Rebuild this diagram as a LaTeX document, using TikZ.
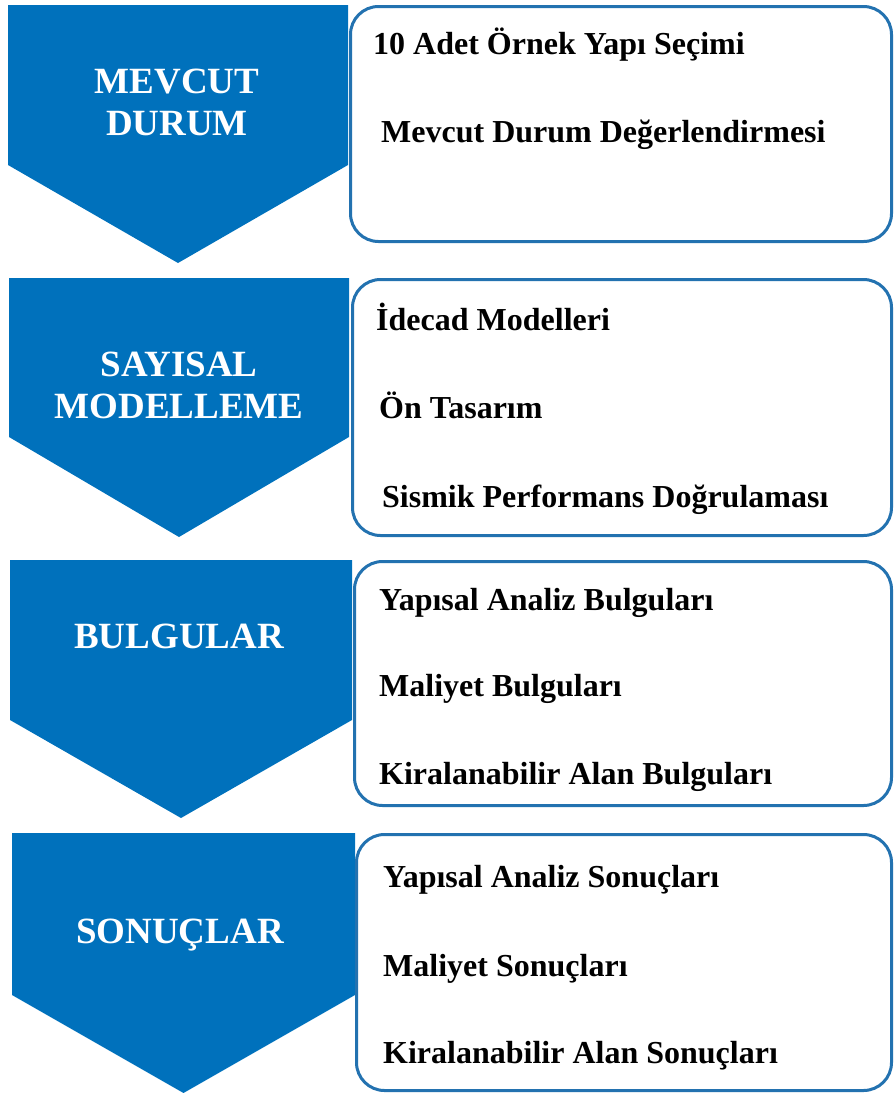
\documentclass[tikz,border=0pt]{standalone}
\usepackage{fontspec}
\setmainfont{Liberation Serif}
\definecolor{pfeilblau}{HTML}{0071BC}
\definecolor{randblau}{HTML}{2372B0}
\tikzset{
  kasten/.style={draw=randblau, line width=3pt, rounded corners=28pt},
  titel/.style={text=white, font=\fontsize{37}{42}\selectfont\bfseries, align=center, anchor=base, inner sep=0pt},
  punkt/.style={font=\fontsize{32}{34}\selectfont\bfseries, anchor=base west, inner sep=0pt}
}
\begin{document}
\begin{tikzpicture}[x=1pt,y=-1pt]
        % Rahmen
        \useasboundingbox (0,0) rectangle (894,1093);
        % Pfeile und Kaesten
        \foreach \li/\re/\ob/\sc/\sp/\kl/\ku in {8/348/5/165/263/350.5/241.5,
                                                 9/349/278/437/537/352.5/535.5,
                                                 10/352/560/720/818/354.5/805.5,
                                                 12/355/833/995/1093/356.5/1090.5}{
            \fill [pfeilblau] (\li,\ob) -- (\re,\ob) -- (\re,\sc) -- ({(\li+\re)/2},\sp) -- (\li,\sc) -- cycle;
            \draw [kasten] (\kl,\ob+1.5) rectangle (891.5,\ku);
        }
        % Titel (Grundlinie der letzten Zeile)
        \node [titel] (mevcut) at (177,135) {MEVCUT\\DURUM};
        \node [titel] (sayisal) at (179,418) {SAYISAL\\MODELLEME};
        \node [titel] (bulgular) at (179,648) {BULGULAR};
        \node [titel] (sonuclar) at (180,943) {SONUÇLAR};
        % Punkte
        \node [punkt] (secim) at (373,54) {10 Adet Örnek Yapı Seçimi};
        \node [punkt] (degerlendirme) at (381,142) {Mevcut Durum Değerlendirmesi};
        \node [punkt] (idecad) at (376,330) {İdecad Modelleri};
        \node [punkt] (ontasarim) at (379,418) {Ön Tasarım};
        \node [punkt] (sismik) at (382,507) {Sismik Performans Doğrulaması};
        \node [punkt] (yapisalb) at (379,610) {Yapısal Analiz Bulguları};
        \node [punkt] (maliyetb) at (379,696) {Maliyet Bulguları};
        \node [punkt] (kiralab) at (379,784) {Kiralanabilir Alan Bulguları};
        \node [punkt] (yapisals) at (383,887) {Yapısal Analiz Sonuçları};
        \node [punkt] (maliyets) at (383,976) {Maliyet Sonuçları};
        \node [punkt] (kiralas) at (383,1063) {Kiralanabilir Alan Sonuçları};
\end{tikzpicture}
\end{document}
